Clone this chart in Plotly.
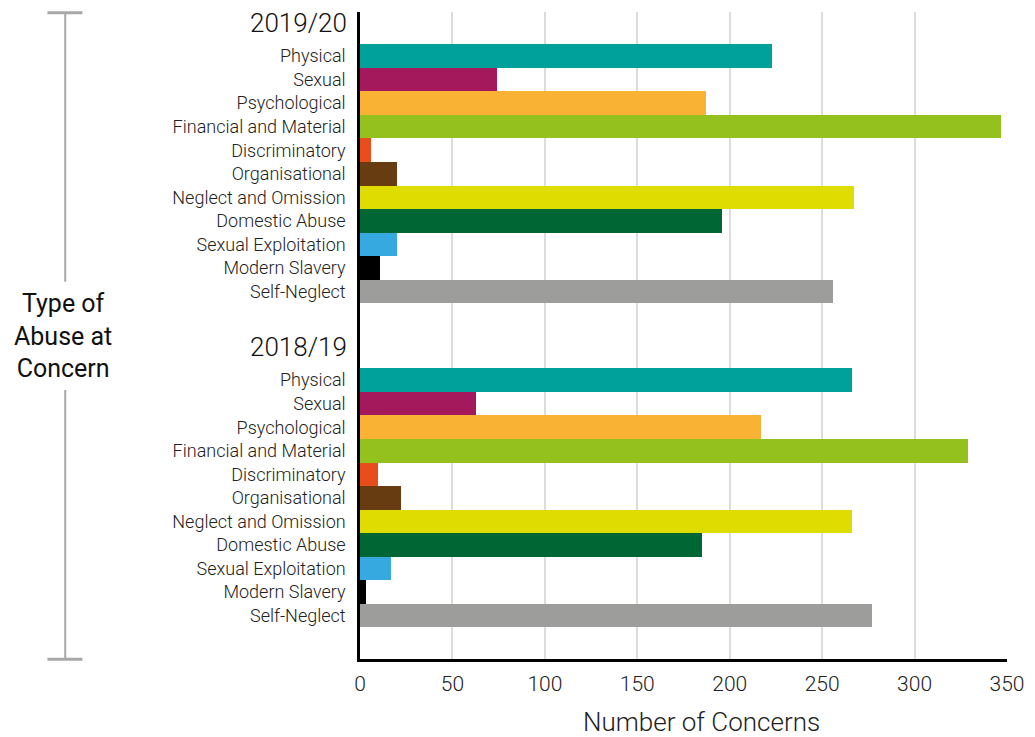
import plotly.graph_objects as go

categories = ["Physical", "Sexual", "Psychological", "Financial and Material",
              "Discriminatory", "Organisational", "Neglect and Omission",
              "Domestic Abuse", "Sexual Exploitation", "Modern Slavery", "Self-Neglect"]
values_2019_20 = [223, 74, 187, 347, 6, 20, 267, 196, 20, 11, 256]
values_2018_19 = [266, 63, 217, 329, 10, 22, 266, 185, 17, 3, 277]
years = ["2019/20", "2018/19"]
colors = ["#00A19A", "#A3195B", "#F9B233", "#95C11F", "#E84E1B", "#683C11",
          "#DEDC00", "#006633", "#36A9E1", "#000000", "#9D9D9C"]

# page has an 8px body margin, so the figure is drawn 8px in from the corner
OFF = 8
W, H = 1027, 729
L, R, T, B = 351.5, 28, 4, 78
FONT = "Roboto"

# row positions (one unit = one bar row); second block starts lower down
pos_1920 = [i for i in range(len(categories))]
gap = 13.76
pos_1819 = [gap + i for i in range(len(categories))]
y_top, y_bot = -1.87, 25.6


def px2x(px):
    return (px - OFF - L) / (W - L - R)


def py2y(py):
    return (H - B - (py - OFF)) / (H - T - B)


fig = go.Figure()
for pos, vals, yr in [(pos_1920, values_2019_20, years[0]), (pos_1819, values_2018_19, years[1])]:
    fig.add_trace(go.Bar(x=vals, y=pos, orientation="h", width=1,
                         marker=dict(color=colors, line=dict(width=0)),
                         name=yr, showlegend=False))

fig.update_layout(
    width=W, height=H,
    margin=dict(l=L, r=R, t=T, b=B, autoexpand=False),
    plot_bgcolor="white", paper_bgcolor="white",
    bargap=0,
    font=dict(family=FONT, color="#222", weight=300),
    xaxis=dict(range=[0, 350], tickvals=[0, 50, 100, 150, 200, 250, 300, 350],
               showgrid=True, gridcolor="#dcdcdc", gridwidth=1.5,
               showline=True, linecolor="black", linewidth=2.5,
               ticks="", ticklabelstandoff=4, zeroline=False,
               tickfont=dict(size=21, color="#222", weight=300)),
    yaxis=dict(range=[y_bot, y_top], tickvals=pos_1920 + pos_1819,
               ticktext=categories + categories,
               showline=True, linecolor="black", linewidth=2.5,
               showgrid=False, zeroline=False, ticks="", ticklabelstandoff=8,
               tickfont=dict(size=18, color="#222", weight=300)),
)

# year headers
for yr, py in [(years[0], 22.5), (years[1], 347)]:
    fig.add_annotation(text=yr, xref="paper", yref="paper",
                       x=px2x(348), y=py2y(py), xanchor="right", yanchor="middle",
                       showarrow=False, font=dict(size=26, color="#111", weight=300))

# axis titles
fig.add_annotation(text="Number of Concerns", xref="paper", yref="paper",
                   x=px2x(701), y=py2y(722), xanchor="center", yanchor="middle",
                   showarrow=False, font=dict(size=26, color="#222", weight=300))
fig.add_annotation(text="Type of<br>Abuse at<br>Concern", xref="paper", yref="paper",
                   x=px2x(62), y=py2y(336), xanchor="center", yanchor="middle",
                   showarrow=False, align="center",
                   font=dict(size=25, color="#111", weight=400))

# bracket on the left
bc = "#a8a8a8"
for x0, y0, x1, y1, w in [(64.5, 12.7, 64.5, 281.7, 2), (64.5, 390, 64.5, 659.3, 2),
                          (46.7, 12.7, 81.7, 12.7, 3), (46.7, 659.3, 81.7, 659.3, 3)]:
    fig.add_shape(type="line", xref="paper", yref="paper",
                  x0=px2x(x0), y0=py2y(y0), x1=px2x(x1), y1=py2y(y1),
                  line=dict(color=bc, width=w))

fig.write_html("out.html")
